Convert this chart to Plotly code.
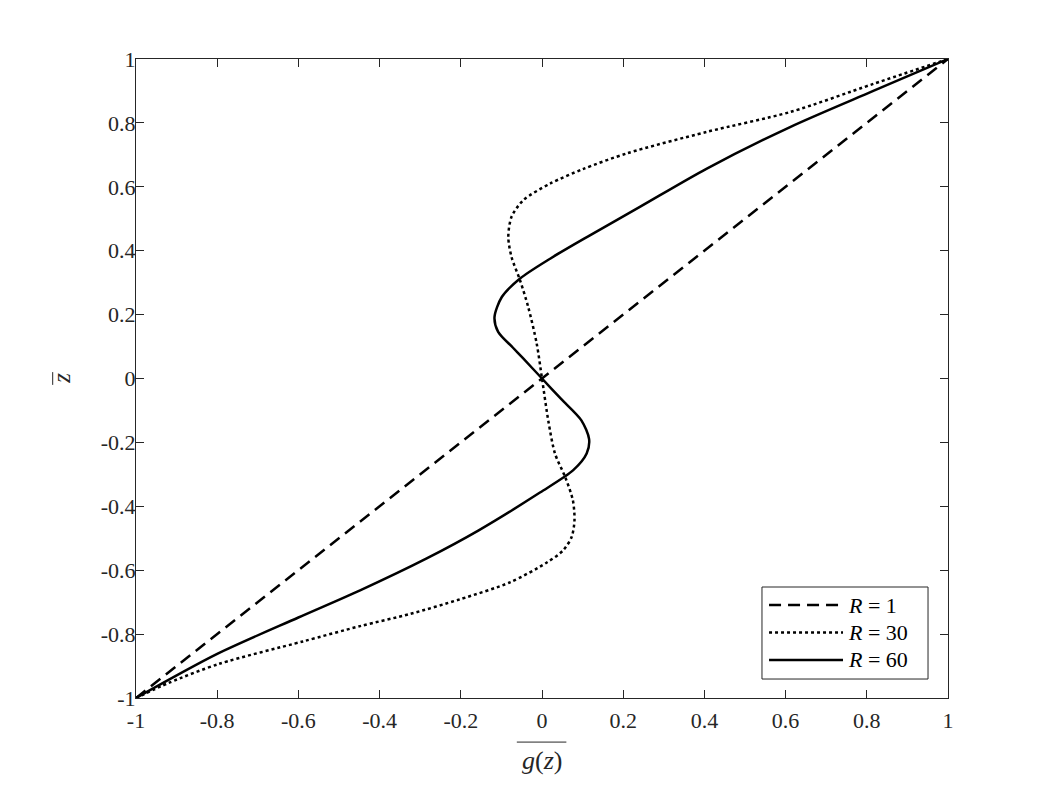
import plotly.graph_objects as go

# Values: each curve is x = g(z), y = z
Z_R1 = [-1.0, 1.0]
G_R1 = [-1.0, 1.0]

Z_R30 = [-1.0, -0.952, -0.893, -0.823, -0.775, -0.737, -0.691, -0.638, -0.576,
         -0.538, -0.496, -0.444, -0.381, -0.308, -0.235, -0.136, 0.0, 0.109,
         0.224, 0.307, 0.380, 0.443, 0.506, 0.558, 0.610, 0.655, 0.705, 0.772,
         0.834, 0.922, 1.0]
G_R30 = [-1.0, -0.918, -0.795, -0.589, -0.448, -0.325, -0.202, -0.079, 0.012,
         0.052, 0.073, 0.080, 0.076, 0.057, 0.032, 0.016, 0.0, -0.013,
         -0.034, -0.054, -0.075, -0.083, -0.075, -0.046, 0.020, 0.100, 0.210,
         0.406, 0.611, 0.816, 1.0]

Z_R60 = [-1.0, -0.862, -0.748, -0.663, -0.563, -0.476, -0.357, -0.287, -0.235,
         -0.190, -0.131, -0.064, 0.0, 0.065, 0.097, 0.146, 0.192, 0.255, 0.313,
         0.375, 0.448, 0.537, 0.657, 0.787, 0.900, 1.0]
G_R60 = [-1.0, -0.800, -0.600, -0.448, -0.284, -0.157, -0.005, 0.077, 0.110,
         0.116, 0.097, 0.047, 0.0, -0.048, -0.072, -0.108, -0.117, -0.099, -0.054,
         0.020, 0.118, 0.241, 0.406, 0.611, 0.816, 1.0]

TICK_VALS = [-1, -0.8, -0.6, -0.4, -0.2, 0, 0.2, 0.4, 0.6, 0.8, 1]
TICK_TEXT = ["-1", "-0.8", "-0.6", "-0.4", "-0.2", "0", "0.2", "0.4", "0.6", "0.8", "1"]

LEGEND_NAMES = ["<i>R</i> = 1", "<i>R</i> = 30", "<i>R</i> = 60"]

FONT = "Liberation Serif"
AXIS_COLOR = "#262626"
STYLES = [dict(dash="12px,7px"), dict(dash="dot"), dict(dash="solid")]

fig = go.Figure()
for g, z, st in [(G_R1, Z_R1, STYLES[0]), (G_R30, Z_R30, STYLES[1]),
                 (G_R60, Z_R60, STYLES[2])]:
    shape = "linear" if len(g) == 2 else "spline"
    fig.add_scatter(x=g, y=z, mode="lines", showlegend=False,
                    line=dict(color="black", width=2.5, shape=shape,
                              smoothing=0.8, **st))

axis = dict(range=[-1, 1], tickvals=TICK_VALS, ticktext=TICK_TEXT,
            ticks="inside", ticklen=8, tickwidth=1, tickcolor=AXIS_COLOR,
            showline=True, linecolor=AXIS_COLOR, linewidth=1, mirror="ticks",
            showgrid=False, zeroline=False,
            tickfont=dict(family=FONT, size=22, color=AXIS_COLOR))
fig.update_xaxes(**axis, ticklabelstandoff=3)
fig.update_yaxes(**axis, ticklabelstandoff=-5)

# axis labels with overbars (drawn as short lines)
fig.add_annotation(text="<i>g</i>(<i>z</i>)", xref="paper", yref="paper",
                   x=0.5, y=-0.098, showarrow=False, yanchor="middle",
                   font=dict(family=FONT, size=26, color=AXIS_COLOR))
fig.add_shape(type="line", xref="paper", yref="paper",
              x0=0.469, x1=0.530, y0=-0.069, y1=-0.069,
              line=dict(color=AXIS_COLOR, width=1))
fig.add_annotation(text="<i>z</i>", xref="paper", yref="paper",
                   x=-0.092, y=0.5, showarrow=False, textangle=-90,
                   xanchor="center", yanchor="middle",
                   font=dict(family=FONT, size=25, color=AXIS_COLOR))
fig.add_shape(type="line", xref="paper", yref="paper",
              x0=-0.1026, x1=-0.1026, y0=0.490, y1=0.510,
              line=dict(color=AXIS_COLOR, width=1))

# legend box drawn by hand so the line samples are long, as in the reference
fig.add_shape(type="rect", xref="paper", yref="paper",
              x0=0.7709, x1=0.9754, y0=0.0297, y1=0.1737,
              fillcolor="white", line=dict(color=AXIS_COLOR, width=1),
              layer="above")
for i, (name, st) in enumerate(zip(LEGEND_NAMES, STYLES)):
    yy = 0.1455 - i * 0.043
    fig.add_shape(type="line", xref="paper", yref="paper",
                  x0=0.7796, x1=0.8707, y0=yy, y1=yy, layer="above",
                  line=dict(color="black", width=2.5, **st))
    fig.add_annotation(text=name, xref="paper", yref="paper", x=0.8744, y=yy,
                       xanchor="left", yanchor="middle", showarrow=False,
                       font=dict(family=FONT, size=22, color="black"))

fig.update_layout(
    width=1046, height=785,
    margin=dict(l=128, r=106, t=51, b=95, autoexpand=False),
    plot_bgcolor="white", paper_bgcolor="white",
    font=dict(family=FONT, color=AXIS_COLOR),
)

fig.write_html("out.html")
